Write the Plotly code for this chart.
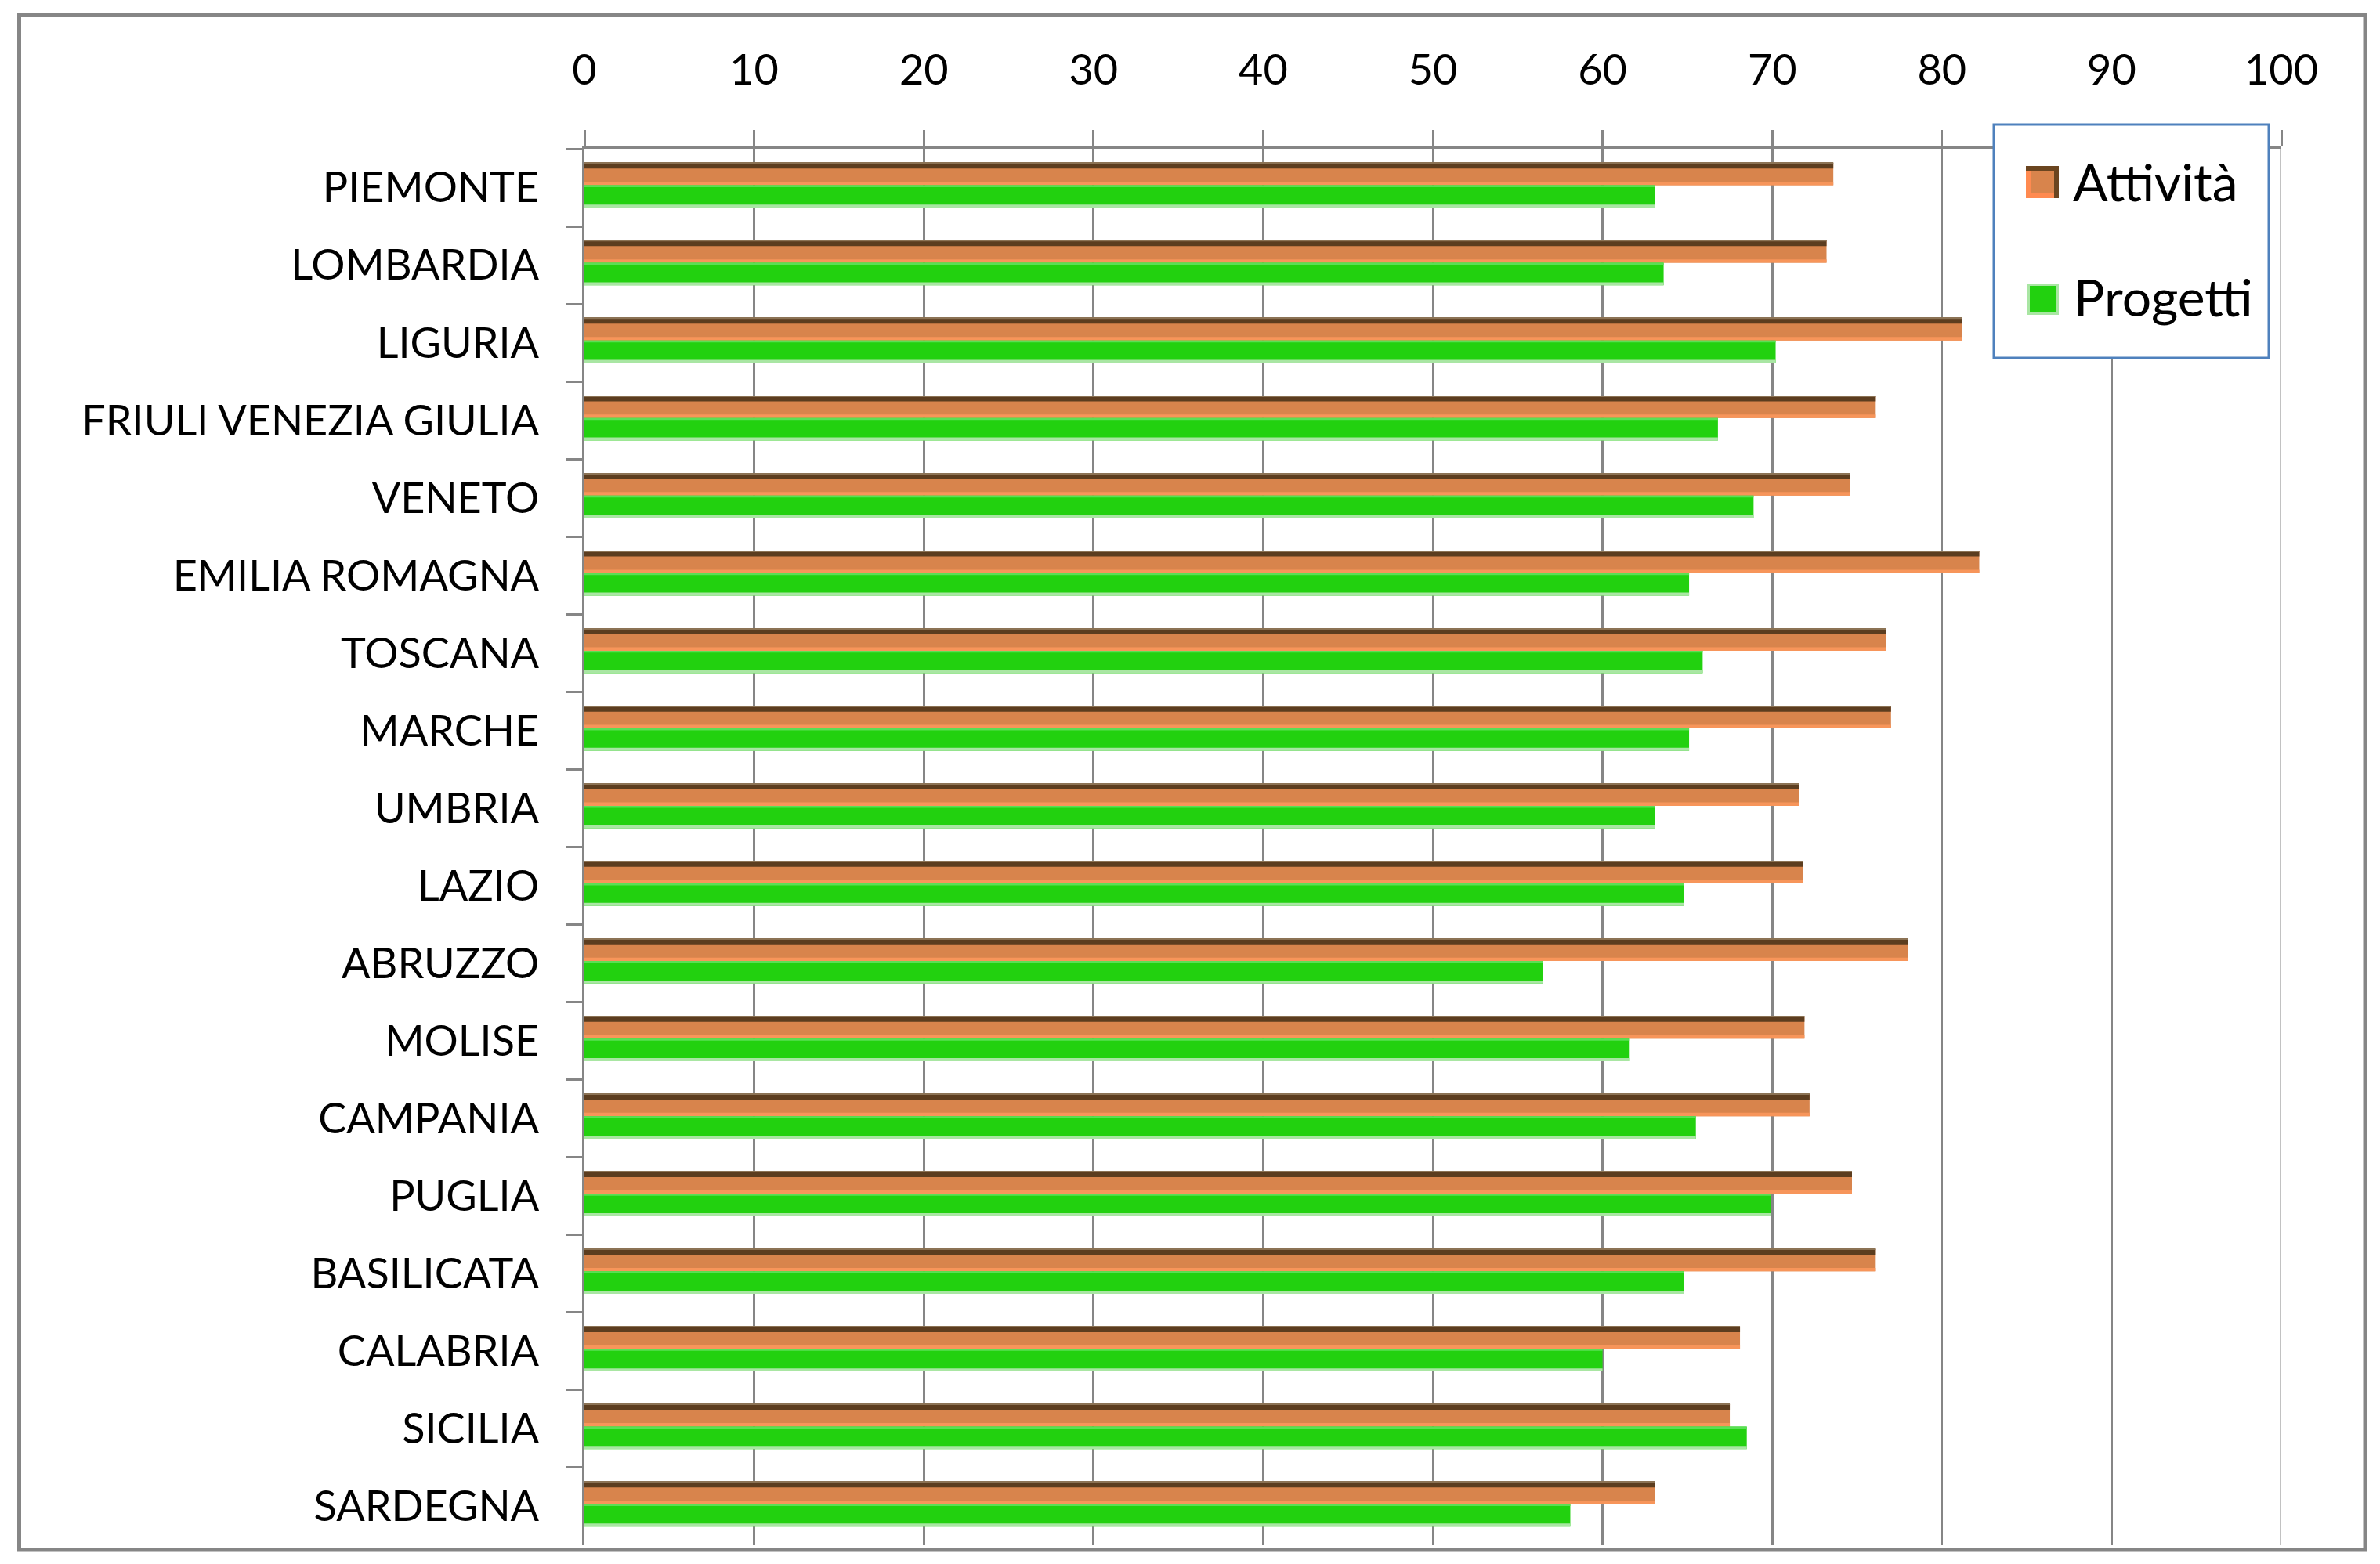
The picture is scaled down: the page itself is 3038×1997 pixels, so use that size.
import plotly.graph_objects as go

regioni = ["PIEMONTE", "LOMBARDIA", "LIGURIA", "FRIULI VENEZIA GIULIA", "VENETO",
           "EMILIA ROMAGNA", "TOSCANA", "MARCHE", "UMBRIA", "LAZIO", "ABRUZZO",
           "MOLISE", "CAMPANIA", "PUGLIA", "BASILICATA", "CALABRIA", "SICILIA", "SARDEGNA"]
attivita = [73.6, 73.2, 81.2, 76.1, 74.6, 82.2, 76.7, 77.0, 71.6, 71.8, 78.0,
            71.9, 72.2, 74.7, 76.1, 68.1, 67.5, 63.1]
progetti = [63.1, 63.6, 70.2, 66.8, 68.9, 65.1, 65.9, 65.1, 63.1, 64.8, 56.5,
            61.6, 65.5, 69.9, 64.8, 60.0, 68.5, 58.1]
tick_vals = list(range(0, 101, 10))

W, H = 3020, 1978
PL, PR, PT, PB = 738, 2904, 182, 1965
GRAY = "#868686"
FONT = "Lato"


def px(x):
    return (x - PL) / (PR - PL)


def py(y):
    return (PB - y) / (PB - PT)


fig = go.Figure()

# bars built from layers to imitate the bevelled Excel look
layers = [
    (attivita, -0.32, 0.29, "#D8844C"),
    (attivita, -0.32, 0.075, "#5C3D1F"),
    (attivita, -0.32, 0.014, "#8C7355"),
    (attivita, -0.075, 0.045, "#F7955A"),
    (progetti, -0.03, 0.29, "#22D10F"),
    (progetti, -0.03, 0.025, "#5ADF55"),
    (progetti, 0.22, 0.04, "#A9E6A3"),
]
for vals, off, wd, col in layers:
    fig.add_trace(go.Bar(
        y=regioni, x=vals, orientation="h", offset=off, width=wd,
        marker=dict(color=col, line=dict(width=0)),
        showlegend=False, hoverinfo="skip"))
fig.data[0].name = "Attività"
fig.data[4].name = "Progetti"
fig.data[0].hoverinfo = "x+y+name"
fig.data[4].hoverinfo = "x+y+name"

fig.update_layout(
    width=W, height=H,
    margin=dict(l=PL, r=W - PR, t=PT, b=H - PB),
    paper_bgcolor="white", plot_bgcolor="white",
    barmode="overlay",
    showlegend=False,
    font=dict(family=FONT, color="black", size=54),
    xaxis=dict(side="top", range=[0, 100], tickmode="array", tickvals=tick_vals,
               showgrid=True, gridcolor=GRAY, gridwidth=3, zeroline=False,
               showline=True, linecolor=GRAY, linewidth=4,
               ticks="outside", ticklen=20, tickwidth=3, tickcolor=GRAY,
               ticklabelstandoff=36, tickfont=dict(size=54)),
    yaxis=dict(type="category", categoryorder="array", categoryarray=regioni,
               range=[len(regioni) - 0.5, -0.5], showgrid=False, zeroline=False,
               showline=True, linecolor=GRAY, linewidth=3,
               ticks="outside", tickson="boundaries", ticklen=20, tickwidth=3,
               tickcolor=GRAY, ticklabelstandoff=44, tickfont=dict(size=54)),
)

shapes = [
    # outer chart frame
    dict(type="rect", xref="paper", yref="paper", layer="below",
         x0=px(16.5), x1=px(3011), y0=py(1971), y1=py(11.5),
         line=dict(color=GRAY, width=5), fillcolor="rgba(0,0,0,0)"),
    # gridline at the end of the value axis
    dict(type="line", xref="x", yref="paper", layer="below",
         x0=tick_vals[-1], x1=tick_vals[-1], y0=0, y1=1,
         line=dict(color=GRAY, width=3)),
    # legend box
    dict(type="rect", xref="paper", yref="paper", layer="above",
         x0=px(2537), x1=px(2888), y0=py(449), y1=py(151),
         line=dict(color="#4F81BD", width=3), fillcolor="white"),
    # Attività swatch
    dict(type="rect", xref="paper", yref="paper", layer="above",
         x0=px(2578), x1=px(2620), y0=py(245), y1=py(204),
         line=dict(width=0), fillcolor="#6B4520"),
    dict(type="rect", xref="paper", yref="paper", layer="above",
         x0=px(2578), x1=px(2614), y0=py(245), y1=py(210),
         line=dict(width=0), fillcolor="#FF8A50"),
    dict(type="rect", xref="paper", yref="paper", layer="above",
         x0=px(2584), x1=px(2614), y0=py(239), y1=py(210),
         line=dict(width=0), fillcolor="#D8844C"),
    # Progetti swatch
    dict(type="rect", xref="paper", yref="paper", layer="above",
         x0=px(2580), x1=px(2620), y0=py(394), y1=py(354),
         line=dict(width=0), fillcolor="#A9E6A3"),
    dict(type="rect", xref="paper", yref="paper", layer="above",
         x0=px(2583), x1=px(2617), y0=py(391), y1=py(357),
         line=dict(width=0), fillcolor="#22D10F"),
]
fig.update_layout(shapes=shapes)

fig.add_annotation(x=px(2636), y=py(223), xref="paper", yref="paper",
                   text="Attività", showarrow=False, xanchor="left", yanchor="middle",
                   font=dict(size=66, family=FONT, color="black"))
fig.add_annotation(x=px(2637), y=py(370), xref="paper", yref="paper",
                   text="Progetti", showarrow=False, xanchor="left", yanchor="middle",
                   font=dict(size=66, family=FONT, color="black"))

fig.write_html("out.html")
